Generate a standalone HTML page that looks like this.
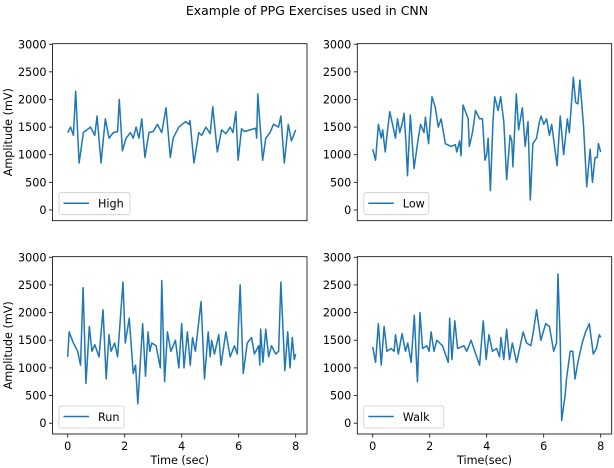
<!DOCTYPE html>
<html><head><meta charset="utf-8"><style>
body{margin:0;background:#fff;}
svg{display:block;font-family:"DejaVu Sans","Liberation Sans",sans-serif;}
</style></head><body>
<svg id="fig" width="614" height="468" viewBox="0 0 614 468">
<text x="307" y="15" text-anchor="middle" font-size="12.5" fill="#000">Example of PPG Exercises used in CNN</text>
</svg>
<script>
const highT=[0,0.1,0.2,0.28,0.4,0.55,0.8,0.95,1.03,1.17,1.32,1.45,1.6,1.75,1.81,1.92,2.05,2.2,2.3,2.4,2.5,2.6,2.71,2.85,3.0,3.15,3.3,3.45,3.6,3.7,3.9,4.14,4.25,4.29,4.43,4.6,4.7,4.85,5.0,5.09,5.25,5.4,5.55,5.7,5.8,5.9,5.98,6.1,6.2,6.4,6.6,6.63,6.67,6.84,6.95,7.1,7.22,7.4,7.48,7.6,7.74,7.85,8.0];
const highV=[1400,1500,1350,2150,850,1400,1500,1350,1700,850,1650,1300,1400,1420,2000,1070,1300,1400,1300,1500,1300,1650,950,1400,1420,1550,1400,1850,950,1300,1500,1600,1550,1620,850,1400,1350,1500,1380,1870,1050,1450,1380,1500,1400,1780,900,1470,1420,1450,1480,1300,2100,900,1300,1400,1550,1500,1700,850,1550,1250,1450];
const lowT=[0,0.1,0.2,0.3,0.35,0.44,0.5,0.6,0.8,0.87,0.95,1.05,1.1,1.17,1.22,1.32,1.45,1.6,1.68,1.8,1.85,1.96,2.08,2.2,2.3,2.4,2.55,2.75,2.9,2.95,3.05,3.1,3.17,3.35,3.39,3.5,3.61,3.75,3.85,3.94,4.0,4.05,4.13,4.22,4.28,4.4,4.49,4.6,4.7,4.82,4.88,4.92,5.04,5.12,5.25,5.35,5.45,5.53,5.62,5.75,5.85,5.91,6.0,6.1,6.2,6.28,6.47,6.58,6.7,6.83,6.9,7.04,7.12,7.2,7.27,7.4,7.51,7.63,7.71,7.8,7.88,7.92,8.0];
const lowV=[1100,900,1550,1300,1450,1050,1350,1780,1300,1650,1400,1600,1750,1200,620,1720,750,1300,1550,1400,1680,1200,2050,1850,1500,1650,1200,1150,1180,1050,1250,980,1900,1650,1150,1400,1800,1650,1650,900,1000,1300,350,1600,2050,1800,2050,1600,550,1350,1250,780,2100,1450,1850,1150,1600,180,1200,1300,1600,1700,1550,1650,1350,1550,800,1700,1000,1650,1400,2400,1950,1920,2350,1500,420,1100,500,950,950,1200,1050];
const runT=[0,0.05,0.2,0.35,0.45,0.54,0.64,0.76,0.85,0.95,1.1,1.24,1.35,1.45,1.52,1.65,1.75,1.94,2.02,2.16,2.3,2.38,2.46,2.63,2.73,2.82,2.88,2.95,3.1,3.25,3.3,3.4,3.5,3.62,3.78,3.9,4.0,4.08,4.2,4.3,4.38,4.48,4.68,4.8,4.93,5.0,5.05,5.15,5.3,5.38,5.55,5.7,5.85,5.95,6.05,6.16,6.3,6.45,6.55,6.7,6.74,6.77,6.85,6.95,7.05,7.15,7.3,7.4,7.48,7.62,7.72,7.8,7.88,7.95,8.0];
const runV=[1200,1650,1450,1300,1050,2450,720,1750,1300,1420,1200,2050,800,1600,1300,1450,1200,2550,1450,1900,900,1050,350,1800,850,1650,1300,1450,1400,1000,2580,750,1650,1300,1500,1000,1800,1000,1650,1050,1550,1300,2200,800,1650,1200,1500,1250,1600,1050,1650,1200,1400,1250,2500,900,1450,1550,1250,1400,1050,1700,1100,1700,1200,1400,1250,1300,2550,950,1650,1000,1550,1150,1250];
const walkT=[0,0.1,0.2,0.3,0.4,0.5,0.65,0.75,0.8,0.9,1.03,1.15,1.23,1.35,1.46,1.57,1.66,1.75,1.9,1.98,2.05,2.15,2.25,2.45,2.65,2.7,2.78,2.88,2.98,3.2,3.3,3.45,3.75,3.88,3.98,4.08,4.2,4.35,4.45,4.5,4.6,4.7,4.8,4.9,5.05,5.28,5.4,5.55,5.65,5.75,5.9,6.07,6.2,6.35,6.45,6.5,6.58,6.63,6.75,6.8,6.93,7.02,7.1,7.2,7.35,7.47,7.6,7.74,7.85,7.95,8.0];
const walkV=[1380,1100,1800,1050,1750,1300,1350,1300,1600,1250,1620,1300,1450,1100,1950,750,2000,1350,1400,1300,1650,1300,1500,1400,1100,1900,1150,1850,1350,1400,1300,1500,1050,1850,1150,1600,1300,1350,1200,1550,1150,1700,1150,1450,1100,1650,1450,1400,1700,2050,1500,1800,1750,1300,1450,2700,1500,50,500,800,1300,1300,800,1100,1450,1650,1800,1250,1350,1600,1550];
const yTicks=[0,500,1000,1500,2000,2500,3000];
const xTicks=[0,2,4,6,8];

const NS='http://www.w3.org/2000/svg';
const svg=document.getElementById('fig');
function mk(tag,attrs,parent){const e=document.createElementNS(NS,tag);for(const k in attrs)e.setAttribute(k,attrs[k]);(parent||svg).appendChild(e);return e;}
const FS=11.2;
const panels=[
 {name:'high',label:'High',T:highT,V:highV,L:52.5,R:307,Tp:43.7,B:220.7,x0:67.7,yl:true,xl:null},
 {name:'low',label:'Low',T:lowT,V:lowV,L:357.3,R:611.7,Tp:43.7,B:220.7,x0:372.7,yl:false,xl:null},
 {name:'run',label:'Run',T:runT,V:runV,L:52.5,R:307,Tp:256.7,B:434,x0:67.7,yl:true,xl:'Time (sec)'},
 {name:'walk',label:'Walk',T:walkT,V:walkV,L:357.3,R:611.7,Tp:256.7,B:434,x0:372.7,yl:false,xl:'Time(sec)'}
];
panels.forEach(p=>{
 const g=mk('g',{});
 
 
 const ymin=-195,ymax=3010;
 const ys=v=>p.B-(v-ymin)/(ymax-ymin)*(p.B-p.Tp);
 const xs=t=>p.x0+t*28.5;
 let d='';
 p.T.forEach((t,i)=>{d+=(i?'L':'M')+xs(t).toFixed(2)+' '+ys(p.V[i]).toFixed(2);});
 const path=mk('path',{d:d,fill:'none',stroke:'#1f77b4','stroke-width':1.5,'stroke-linejoin':'round'},g);
 
 
 const box=mk('rect',{x:p.L,y:p.Tp,width:p.R-p.L,height:p.B-p.Tp,fill:'none',stroke:'#000','stroke-width':0.8},g);
 
 
 yTicks.forEach(v=>{
  const y=ys(v);
  mk('line',{x1:p.L-3.5,x2:p.L,y1:y,y2:y,stroke:'#000','stroke-width':0.8},g);
  const t=mk('text',{x:p.L-6,y:y+4,'text-anchor':'end','font-size':FS},g);
  t.textContent=v;
  
  
 });
 if(p.xl){
  xTicks.forEach(v=>{
   const x=xs(v);
   mk('line',{x1:x,x2:x,y1:p.B,y2:p.B+3.5,stroke:'#000','stroke-width':0.8},g);
   const t=mk('text',{x:x,y:p.B+16,'text-anchor':'middle','font-size':FS},g);
   t.textContent=v;
   
   
  });
  const xl=mk('text',{x:(p.L+p.R)/2,y:p.B+30,'text-anchor':'middle','font-size':FS},g);
  xl.textContent=p.xl;
  
  
 }
 if(p.yl){
  const cy=(p.Tp+p.B)/2;
  const yl=mk('text',{x:0,y:0,transform:'translate(12,'+cy+') rotate(-90)','text-anchor':'middle','font-size':FS},g);
  yl.textContent='Amplitude (mV)';
  
  
 }
 const lg=mk('g',{},g);
 
 
 const lx=p.L+6.5, ly=p.B-28;
 const w=p.label==='Walk'?80:(p.label==='High'?71:65);
 mk('rect',{x:lx,y:ly,width:w,height:22,rx:2,fill:'#fff',stroke:'#ccc','stroke-width':0.8},lg);
 mk('line',{x1:lx+4.5,x2:lx+30,y1:ly+10.5,y2:ly+10.5,stroke:'#1f77b4','stroke-width':1.5},lg);
 const lt=mk('text',{x:lx+39,y:ly+15,'font-size':FS},lg);
 lt.textContent=p.label;
 
 
});
</script>
</body></html>
